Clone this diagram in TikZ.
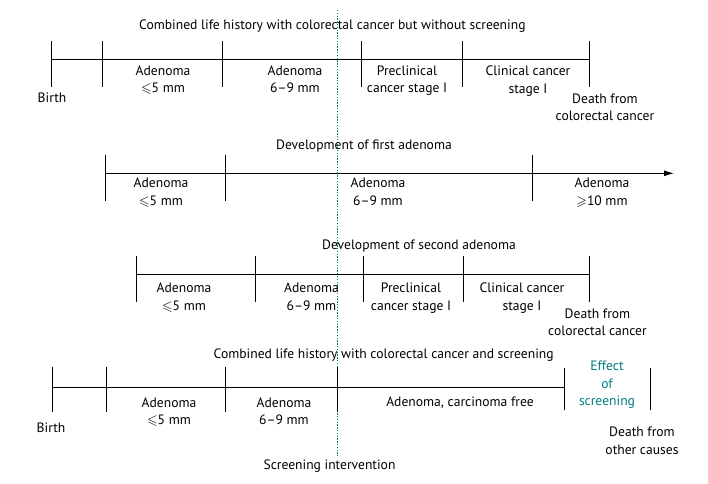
\documentclass[tikz,border=0pt]{standalone}
\usepackage{amsmath,amssymb}
\usepackage{fontspec}
\setmainfont{PT Sans}
\usepackage{tikz}
\usetikzlibrary{arrows.meta}
\definecolor{screenteal}{RGB}{0,125,125}
\tikzset{
    lbl/.style={align=center, inner sep=0pt, text depth=0pt, font=\fontsize{10.2}{13}\selectfont},
    effect/.style={lbl, text=screenteal},
    screenline/.style={screenteal, line width=1pt, dash pattern=on 1pt off 1.1pt},
    axis/.style={line width=0.8pt}
}

\begin{document}
\begin{tikzpicture}[x=0.75pt, y=-0.75pt]
        \useasboundingbox (0, 0) rectangle (708, 484);

        \coordinate (scrtop) at (337.5, 10);
        \coordinate (scrbot) at (337.5, 456);
        \draw[screenline] (scrtop) -- (scrbot);

        \node[lbl] (title1) at (332.4, 25) {Combined life history with colorectal cancer but without screening};
        \node[lbl] (birth1) at (52, 97.3) {Birth};
        \node[lbl] (small1) at (163, 79.5) {Adenoma\\$\leqslant$5 mm};
        \node[lbl] (mid1) at (295, 79.5) {Adenoma\\6--9 mm};
        \node[lbl] (precl1) at (407, 79.5) {Preclinical\\cancer stage I};
        \node[lbl] (clin1) at (528, 79.5) {Clinical cancer\\stage I};
        \node[lbl] (death1) at (605, 107.5) {Death from\\colorectal cancer};

        \node[lbl] (title2) at (364, 145) {Development of first adenoma};
        \node[lbl] (small2) at (161, 191.8) {Adenoma\\$\leqslant$5 mm};
        \node[lbl] (mid2) at (378, 191.8) {Adenoma\\6--9 mm};
        \node[lbl] (large2) at (602, 191.8) {Adenoma\\$\geqslant$10 mm};

        \node[lbl] (title3) at (419, 245) {Development of second adenoma};
        \node[lbl] (small3) at (184, 296.8) {Adenoma\\$\leqslant$5 mm};
        \node[lbl] (mid3) at (311.5, 296.8) {Adenoma\\6--9 mm};
        \node[lbl] (precl3) at (411, 296.8) {Preclinical\\cancer stage I};
        \node[lbl] (clin3) at (522, 296.8) {Clinical cancer\\stage I};
        \node[lbl] (death3) at (597.5, 322.3) {Death from\\colorectal cancer};

        \node[lbl] (title4) at (383.7, 353.3) {Combined life history with colorectal cancer and screening};
        \node[lbl] (birth4) at (51, 427.7) {Birth};
        \node[lbl] (small4) at (169, 411.2) {Adenoma\\$\leqslant$5 mm};
        \node[lbl] (mid4) at (284, 411.2) {Adenoma\\6--9 mm};
        \node[lbl] (free4) at (460, 402) {Adenoma, carcinoma free};
        \node[effect] (effect4) at (607, 383.3) {Effect\\of\\screening};
        \node[lbl] (death4) at (642, 440.8) {Death from\\other causes};
        \node[lbl] (scrint) at (329.5, 464.3) {Screening intervention};

        \coordinate (r1a) at (51.3, 59.3);
        \coordinate (r1b) at (102.3, 59.3);
        \coordinate (r1c) at (222.3, 59.3);
        \coordinate (r1d) at (361.7, 59.3);
        \coordinate (r1e) at (462.7, 59.3);
        \coordinate (r1f) at (589.3, 59.3);

        \coordinate (r2a) at (105.7, 173.3);
        \coordinate (r2b) at (225.7, 173.3);
        \coordinate (r2c) at (532.7, 173.3);
        \coordinate (r2end) at (674, 173.3);

        \coordinate (r3a) at (136.7, 274.3);
        \coordinate (r3b) at (255.3, 274.3);
        \coordinate (r3c) at (363.3, 274.3);
        \coordinate (r3d) at (463.3, 274.3);
        \coordinate (r3e) at (589.5, 274.3);

        \coordinate (r4a) at (52.3, 387.3);
        \coordinate (r4b) at (106.3, 387.3);
        \coordinate (r4c) at (225.7, 387.3);
        \coordinate (r4d) at (337.5, 387.3);
        \coordinate (r4e) at (564.7, 387.3);
        \coordinate (r4f) at (650.7, 387.3);

        \draw[axis] (r1a) -- (r1f);
        \draw[axis, -{Latex[length=7.5pt, width=4.5pt]}] (r2a) -- (r2end);
        \draw[axis] (r3a) -- (r3e);
        \draw[axis] (r4a) -- (r4e);

        \foreach \c in {r1a, r1b, r1c, r1d, r1e, r1f, r2a, r2b, r2c, r3a, r3b, r3c, r3d, r3e}
            \draw[axis] (\c) ++(0, -18.3) -- ++(0, 46);
        \foreach \c in {r4a, r4b, r4c, r4d}
            \draw[axis] (\c) ++(0, -20.5) -- ++(0, 45);
        \foreach \c in {r4e, r4f}
            \draw[axis] (\c) ++(0, -19.3) -- ++(0, 42);
    \end{tikzpicture}
\end{document}
